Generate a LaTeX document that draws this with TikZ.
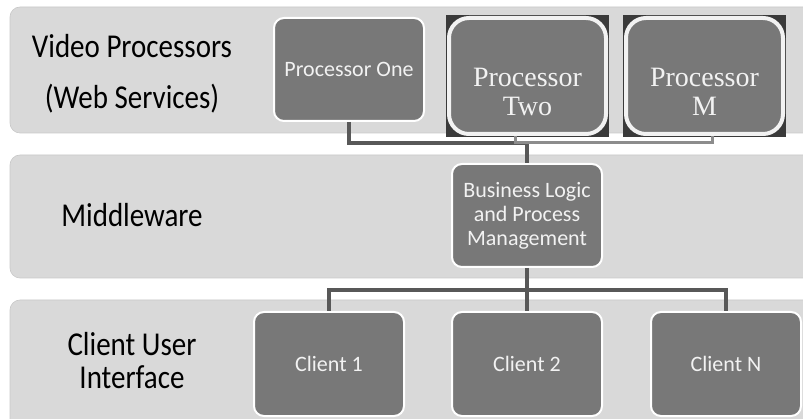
\documentclass[tikz,border=0pt]{standalone}
\usepackage{fontspec}
\usepackage{graphicx}
\newfontfamily\boxfont{Carlito}
\newfontfamily\serfont{Liberation Serif}
\definecolor{bandgray}{RGB}{217,217,217}
\definecolor{bandedge}{RGB}{200,200,200}
\definecolor{boxgray}{RGB}{120,120,120}
\definecolor{boxback}{RGB}{58,58,58}
\definecolor{linkdark}{RGB}{88,88,88}
\definecolor{linklight}{RGB}{140,140,140}
\newcommand{\tallline}[1]{\scalebox{1}[1.15]{#1}}
\tikzset{
    band/.style={fill=bandgray, draw=bandedge, line width=0.6pt, rounded corners=10pt},
    procbox/.style={draw=white, line width=2pt, fill=boxgray, rounded corners=10pt,
        minimum width=150pt, minimum height=103pt, text=white!95!black,
        font=\boxfont\fontsize{22}{24}\selectfont, align=center},
    bigbox/.style={draw=white!95!black, line width=4pt, fill=boxgray, rounded corners=20pt,
        minimum width=157pt, minimum height=116pt},
    bigtext/.style={text=white!95!black, font=\serfont\fontsize{28}{29}\selectfont, align=center},
    layertext/.style={font=\boxfont\fontsize{29}{51}\selectfont, align=center},
    linkd/.style={draw=linkdark, line width=3.5pt},
    linkl/.style={draw=linklight, line width=3pt},
}

\begin{document}
\begin{tikzpicture}[x=1pt, y=-1pt]
    \useasboundingbox (0,0) rectangle (803,419);
    \clip (0,0) rectangle (803,419);

    %% Layers
    \path[band] (10,7) rectangle (830,133);
    \path[band] (10,155) rectangle (830,278);
    \path[band] (10,300) rectangle (830,440);
    \node[layertext] (vplabel) at (132,74) {\tallline{Video Processors}\\\tallline{(Web Services)}};
    \node[layertext] (mwlabel) at (132,215) {\tallline{Middleware}};
    \node[layertext, font=\boxfont\fontsize{29}{33}\selectfont] (culabel) at (132,361) {\tallline{Client User}\\\tallline{Interface}};

    %% Video processors
    \node[procbox] (p1) at (349,69.5) {Processor One};
    \fill[boxback] (446,15) rectangle (609,137);
    \node[bigbox] (p2) at (527.5,76) {};
    \node[bigtext] (p2text) at ([yshift=-16pt]p2.center) {Processor\\Two};
    \fill[boxback] (623,15) rectangle (786,137);
    \node[bigbox] (pm) at (704.5,76) {};
    \node[bigtext] (pmtext) at ([yshift=-16pt]pm.center) {Processor\\M};

    %% Middleware
    \node[procbox] (blogic) at (527,215.5) {Business Logic\\and Process\\Management};

    %% Clients
    \node[procbox, minimum height=104pt] (c1) at (329,364) {Client 1};
    \node[procbox, minimum height=104pt] (c2) at (527,364) {Client 2};
    \node[procbox, minimum height=104pt] (cn) at (726,364) {Client N};

    %% Connectors
    \coordinate (jtop) at (527,143);
    \coordinate (jbot) at (527,290);
    \coordinate (p2tap) at ([xshift=-12pt]p2.south);
    \coordinate (pmtap) at ([xshift=8pt]pm.south);
    \draw[linkd] (p1.south) |- (jtop) -- (blogic.north);
    \draw[linkl] (p2tap) |- (pmtap |- jtop) -- (pmtap);
    \draw[linkd] (blogic.south) -- (c2.north);
    \draw[linkd] (c1.north) |- (cn.north |- jbot) -- (cn.north);
\end{tikzpicture}
\end{document}
